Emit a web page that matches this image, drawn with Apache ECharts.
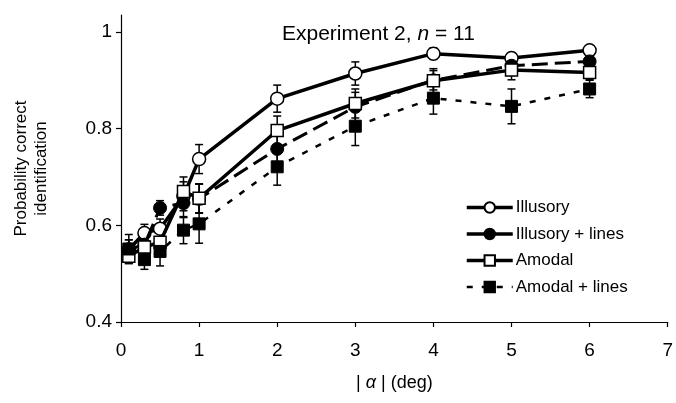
<!DOCTYPE html>
<html>
<head>
<meta charset="utf-8">
<script src="https://cdn.jsdelivr.net/npm/echarts@6/dist/echarts.min.js"></script>
<style>
  html, body { margin: 0; padding: 0; background: #fff; }
  #main { width: 676px; height: 403px; }
</style>
</head>
<body>
<div id="main"></div>
<script>
const FONT = 'Liberation Sans, Arial, Helvetica, sans-serif';

// |alpha| in deg
const xValues = [0.1, 0.3, 0.5, 0.8, 1, 2, 3, 4, 5, 6];

const illusory = [0.55, 0.584, 0.593, 0.66, 0.737, 0.862, 0.914, 0.955, 0.946, 0.962];
const illusoryLines = [0.55, 0.56, 0.636, 0.646, 0.655, 0.758, 0.845, 0.9, 0.93, 0.939];
const amodal = [0.536, 0.555, 0.565, 0.67, 0.656, 0.796, 0.852, 0.899, 0.921, 0.916];
const amodalLines = [0.551, 0.529, 0.546, 0.59, 0.603, 0.721, 0.805, 0.863, 0.846, 0.882];

// standard errors
const illusoryErr = [0.02, 0.018, 0.02, 0.03, 0.03, 0.028, 0.024, 0.012, 0.01, 0.008];
const illusoryLinesErr = [0.02, 0.02, 0.015, 0.03, 0.03, 0.03, 0.03, 0.02, 0.02, 0.01];
const amodalErr = [0.015, 0.02, 0.02, 0.03, 0.03, 0.03, 0.03, 0.025, 0.02, 0.015];
const amodalLinesErr = [0.03, 0.02, 0.03, 0.028, 0.04, 0.038, 0.04, 0.033, 0.036, 0.018];

const yTicks = [0.4, 0.6, 0.8, 1];

const pairs = (ys) => xValues.map((x, i) => [x, ys[i]]);
const errData = (ys, es) => xValues.map((x, i) => [x, ys[i], es[i]]);

function renderErr(params, api) {
  const x = api.value(0), y = api.value(1), e = api.value(2);
  const top = api.coord([x, y + e]);
  const bot = api.coord([x, y - e]);
  const cw = 4;
  const style = { stroke: '#000', lineWidth: 1.5 };
  return {
    type: 'group',
    children: [
      { type: 'line', shape: { x1: top[0], y1: top[1], x2: bot[0], y2: bot[1] }, style },
      { type: 'line', shape: { x1: top[0] - cw, y1: top[1], x2: top[0] + cw, y2: top[1] }, style },
      { type: 'line', shape: { x1: bot[0] - cw, y1: bot[1], x2: bot[0] + cw, y2: bot[1] }, style }
    ]
  };
}

const errSeries = (ys, es) => ({
  type: 'custom',
  renderItem: renderErr,
  data: errData(ys, es),
  z: 1,
  silent: true
});

const chart = echarts.init(document.getElementById('main'));

const option = {
  animation: false,
  textStyle: { fontFamily: FONT },
  title: {
    text: 'Experiment 2, {i|n} = 11',
    left: 277,
    top: 19,
    textStyle: {
      fontFamily: FONT, fontSize: 21, fontWeight: 'normal', color: '#000',
      rich: { i: { fontStyle: 'italic', fontSize: 21, fontFamily: FONT } }
    }
  },
  grid: { left: 121, right: 2, top: 15, bottom: 81 },
  legend: {
    orient: 'vertical',
    left: 465,
    top: 199,
    padding: 0,
    itemWidth: 46,
    itemHeight: 13,
    itemGap: 9.5,
    textStyle: { fontFamily: FONT, fontSize: 17, color: '#000', padding: [0, 0, 0, -2] },
    data: [
      { name: 'Illusory', lineStyle: { type: 'solid', width: 3.5 } },
      { name: 'Illusory + lines', lineStyle: { type: 'solid', width: 3.5 } },
      { name: 'Amodal', lineStyle: { type: 'solid', width: 3.5 } },
      { name: 'Amodal + lines', lineStyle: { type: [6, 9], width: 2.5 } }
    ]
  },
  xAxis: {
    type: 'value',
    min: 0, max: 7, interval: 1,
    name: '| {a|α} | (deg)',
    nameLocation: 'middle',
    nameGap: 52,
    nameTextStyle: {
      fontFamily: FONT, fontSize: 18, color: '#000',
      rich: { a: { fontStyle: 'italic', fontSize: 18, fontFamily: FONT } }
    },
    axisLine: { lineStyle: { color: '#000', width: 1.2 } },
    axisTick: { inside: false, length: 5, lineStyle: { color: '#000', width: 1.2 } },
    axisLabel: { color: '#000', fontSize: 19, margin: 19, fontFamily: FONT },
    splitLine: { show: false }
  },
  yAxis: {
    type: 'value',
    min: 0.4, max: 1.035,
    name: 'Probability correct\nidentification',
    nameLocation: 'middle',
    nameGap: 70,
    nameTextStyle: { fontFamily: FONT, fontSize: 17, color: '#000', lineHeight: 20 },
    axisLine: { lineStyle: { color: '#000', width: 1.2 } },
    axisTick: { inside: false, length: 5, customValues: yTicks, lineStyle: { color: '#000', width: 1.2 } },
    axisLabel: {
      color: '#000', fontSize: 19, margin: 9, fontFamily: FONT,
      customValues: yTicks,
      formatter: (v) => (v === 1 ? '1' : v.toFixed(1))
    },
    splitLine: { show: false }
  },
  series: [
    errSeries(amodalLines, amodalLinesErr),
    errSeries(illusoryLines, illusoryLinesErr),
    errSeries(amodal, amodalErr),
    errSeries(illusory, illusoryErr),
    {
      name: 'Illusory',
      type: 'line',
      data: pairs(illusory),
      z: 2,
      symbol: 'circle',
      symbolSize: 13,
      itemStyle: { color: '#fff', borderColor: '#000', borderWidth: 1.5 },
      lineStyle: { color: '#000', width: 3.5 }
    },
    {
      name: 'Illusory + lines',
      type: 'line',
      data: pairs(illusoryLines),
      z: 3,
      symbol: 'circle',
      symbolSize: 13,
      itemStyle: { color: '#000', borderColor: '#000', borderWidth: 1 },
      lineStyle: { color: '#000', width: 3, type: [16, 7] }
    },
    {
      name: 'Amodal',
      type: 'line',
      data: pairs(amodal),
      z: 4,
      symbol: 'rect',
      symbolSize: 12,
      itemStyle: { color: '#fff', borderColor: '#000', borderWidth: 1.5 },
      lineStyle: { color: '#000', width: 3.5 }
    },
    {
      name: 'Amodal + lines',
      type: 'line',
      data: pairs(amodalLines),
      z: 5,
      symbol: 'rect',
      symbolSize: 12,
      itemStyle: { color: '#000', borderColor: '#000', borderWidth: 1 },
      lineStyle: { color: '#000', width: 2.5, type: [6, 9] }
    }
  ]
};

chart.setOption(option);
</script>
</body>
</html>
